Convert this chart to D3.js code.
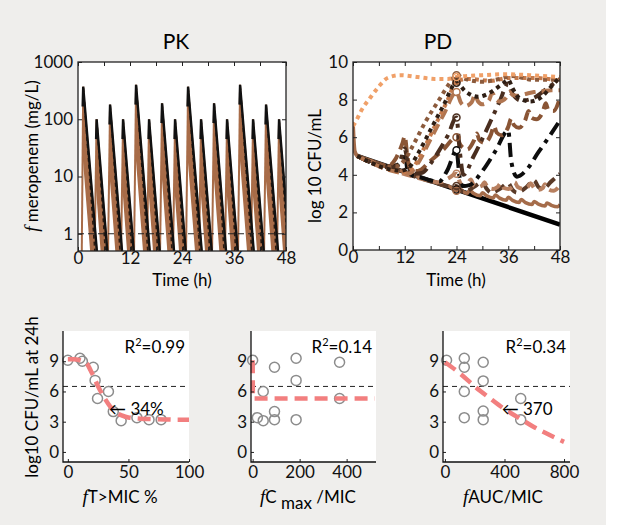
<!DOCTYPE html>
<html><head><meta charset="utf-8">
<script src="https://cdn.jsdelivr.net/npm/d3@7"></script>
<style>
body{margin:0;background:#fff;}
svg{display:block;font-family:Lato,"Open Sans",sans-serif;}
</style></head><body>
<svg id="c" width="634" height="525"></svg>
<script>
// ---------------- DATA ----------------
// PK: one spike per dose
const pkPeakTime   = [1.2,4.3,7.4,10.4,13.4,16.4,19.4,22.4,25.4,28.4,31.4,34.4,37.4,40.4,43.4,46.4];
const pkPeakConc   = [370,100,180,100,400,100,190,100,370,100,190,100,400,100,180,100];
const pkLowPeak    = [25,6.5,12,6.5,27,6.5,13,6.5,25,6.5,13,6.5,27,6.5,12,6.5];
const pkDoseStart  = [0.85,3.8,6.9,9.9,12.9,15.9,18.9,21.9,24.9,27.9,30.9,33.9,36.9,39.9,42.9,45.9];
const pkReachFloor = [4.6,7.0,10.4,13.1,16.8,19.1,22.4,25.1,28.8,31.1,34.4,37.1,40.8,43.1,46.4,49.1];
const pkBandFloor  = [3.2,5.6,9.0,11.7,15.4,17.7,21.0,23.7,27.4,29.7,33.0,35.7,39.4,41.7,45.0,47.7];
const pkMIC = 1;
const timeTicks = [0,6,12,18,24,30,36,42,48];
const pkYTicks = [1,10,100,1000];
const pdYTicks = [0,2,4,6,8,10];

// PD: log10 CFU/mL time courses [time h, log10 CFU/mL]
const pdStart   = [[0,6.6],[0.15,5.9],[0.4,5.25],[1,5.0]];
const pdKill    = [[1,5.0],[24,3.21],[48,1.35]];
const pdControl = [[0,6.6],[0.8,6.9],[2,7.45],[4,8.1],[6,8.7],[8,9.15],[11,9.3],[15,9.2],[19,9.1],[22,9.1],[24,9.2],[30,9.3],[35,9.35],[41,9.3],[48,9.2]];
const pdDot1 = [[1,5.0],[8,4.46],[10,4.45],[12,4.8],[14,5.6],[17,6.9],[20,8.0],[22.5,8.9],[24,9.3],[26,9.1],[30,8.95],[34,9.1],[37,9.25],[42,9.05],[48,9.05]];
const pdDot2 = [[1,5.0],[11,4.22],[13,4.4],[15,5.1],[18,6.4],[21,7.7],[24,8.9],[26,8.45],[29,8.15],[32,8.4],[35,8.9],[36,9.05],[37,8.6],[38.5,8.1],[41,7.9],[43.5,8.1],[46,8.7],[48,9.2]];
const pdDot3 = [[1,5.0],[12,4.15],[14,4.4],[16,5.2],[19,6.6],[22,8.0],[24,9.0],[27,9.1],[32,9.0],[36,9.15],[42,9.15],[48,9.0]];
const pdDash1 = [[1,5.0],[13,4.07],[15,4.6],[18,5.9],[21,7.2],[24,8.4],[25,7.85],[26,7.65],[27.5,7.85],[28.3,8.25],[29,7.9],[30,7.75],[31.5,7.95],[32.3,8.35],[33,8.05],[34,7.9],[35.5,8.1],[36.3,8.4],[37,8.25],[38,8.2],[40,8.3],[42,8.4],[44,8.45],[46,8.5],[48,8.5]];
const pdDashDot1 = [[1,5.0],[9,4.38],[11,4.8],[12,5.4],[12.7,4.6],[14,4.05],[16,4.1],[18,4.6],[20,5.3],[22,6.1],[24,7.05],[24.7,5.4],[25.6,4.0],[28,5.0],[31,6.4],[34,7.9],[36,8.85],[37,8.3],[39,7.95],[42,8.1],[45,8.6],[48,9.1]];
const pdDash2 = [[1,5.0],[8,4.46],[10,4.9],[11.5,5.7],[12,6.05],[12.6,5.0],[13.5,4.2],[15,4.2],[18,4.75],[21,5.35],[24,6.0],[25,5.55],[26.5,5.35],[28,5.8],[28.7,6.2],[29.3,5.85],[30.5,5.7],[32,6.15],[32.7,6.6],[33.3,6.25],[34.5,6.1],[36,6.55],[36.7,7.0],[37.3,6.65],[38.5,6.5],[40,6.95],[40.7,7.4],[41.3,7.05],[42.5,6.95],[44,7.35],[44.7,7.8],[45.3,7.45],[46.5,7.4],[48,8.1]];
const pdDashDot2 = [[1,5.0],[8,4.46],[10,4.5],[11.5,4.9],[12,5.2],[12.6,4.3],[13.5,4.0],[16,3.84],[18,3.7],[20,3.65],[22,4.3],[24,5.3],[24.7,3.9],[25.5,3.4],[27,3.45],[30,4.2],[33,5.25],[36,6.35],[36.7,4.7],[38,3.9],[40,4.2],[43,5.2],[46,6.2],[48,6.9]];
const pdDash3 = [[1,5.0],[18,3.68],[20,3.6],[22,3.8],[24,4.05],[24.7,3.65],[25.5,3.4],[26.5,3.5],[27.3,3.75],[28,3.45],[29,3.35],[30,3.45],[30.5,3.6],[31.2,3.35],[32.5,3.25],[33.5,3.35],[34.3,3.55],[35,3.3],[36,3.25],[37,3.35],[37.5,3.6],[38.2,3.35],[39.5,3.25],[40.5,3.35],[41.2,3.55],[42,3.3],[43,3.2],[44,3.3],[44.5,3.5],[45.2,3.25],[46.5,3.15],[47.5,3.3],[48,3.45]];
const pdDash4 = [[1,5.0],[20,3.52],[22,3.4],[24,3.4],[25,3.15],[26,3.1],[28,3.35],[30,3.6],[31,3.25],[32,3.05],[34,3.25],[36,3.55],[37,3.2],[38,3.05],[40,3.3],[42,3.7],[43,3.35],[44,3.25],[46,3.65],[48,4.05]];
const pdWavy = [[1,5.0],[20,3.52],[21,3.44],[22,3.42],[23,3.28],[24,3.15],[24.5,3.3],[25.5,3.12],[26.5,3.02],[27,3.18],[28,3.0],[29.5,2.88],[30,3.05],[31,2.88],[32.5,2.76],[33,2.92],[34,2.76],[35.5,2.64],[36,2.8],[37,2.64],[38.5,2.52],[39,2.68],[40,2.52],[41.5,2.42],[42,2.58],[43,2.44],[44.5,2.34],[45,2.5],[46,2.38],[47.5,2.3],[48,2.42]];

// Bottom panels: log10 CFU/mL at 24h vs PK/PD index
const bacteriaThreshold = 6.5;
const tmicX = [0,10,12,21,22.5,33.5,24.5,37.5,44,57,67,77];
const tmicY = [9.1,9.3,9.0,8.4,7.1,6.0,5.3,4.0,3.1,3.4,3.2,3.2];
const tmicFitX = [0,5,10,15,20,25,30,35,40,45,50,60,70,80,90,100];
const tmicFitY = [9.2,9.2,9.1,8.85,7.8,6.5,5.4,4.5,3.9,3.6,3.42,3.3,3.25,3.22,3.2,3.2];
const cmaxX = [0,20,45,45,93,93,93,185,185,185,370,370];
const cmaxY = [9.1,3.4,3.1,6.0,8.4,4.0,3.2,9.3,7.1,3.2,8.9,5.3];
const cmaxFitX = [0,1,520];
const cmaxFitY = [9.1,5.3,5.3];
const aucX = [11,130,130,130,130,257,257,257,257,509,509];
const aucY = [9.1,9.3,8.4,6.0,3.4,8.9,7.05,4.05,3.2,5.3,3.2];
const aucFitX = [0,100,200,300,400,500,600,700,800];
const aucFitY = [8.9,7.8,6.5,5.35,4.25,3.35,2.45,1.7,1.0];
const subYTicks = [0,3,6,9];

// ---------------- DRAW ----------------
const svg = d3.select('#c');
svg.append('rect').attr('width',606).attr('height',525).attr('fill','#efeeec');
const defs = svg.append('defs');
function clip(id,x0,y0,x1,y1){defs.append('clipPath').attr('id',id).append('rect').attr('x',x0).attr('y',y0).attr('width',x1-x0).attr('height',y1-y0);}
function styleAxis(g,size){g.attr('font-family','Lato, "Open Sans", sans-serif').attr('font-size',size||17);g.select('.domain').remove();g.selectAll('text').attr('fill','#111');g.selectAll('.tick line').attr('stroke','#222');}
const tFmt = d => d%12===0 ? d : '';

// ---- PK ----
const pkX = d3.scaleLinear().domain([0,48]).range([78,286]);
const pkY = d3.scaleLog().domain([0.5,1000]).range([251,62]);
svg.append('rect').attr('x',78).attr('y',62).attr('width',208).attr('height',189).attr('fill','#fff');
clip('cpk',78,62,286,251);
const gpk = svg.append('g').attr('clip-path','url(#cpk)');
const FLOOR = 0.3;
const pkLine = d3.line().x(d=>pkX(d[0])).y(d=>pkY(d[1]));
const brown = '#a86c48';
pkPeakTime.forEach((tp,i)=>{
  const p = pkPeakConc[i];
  gpk.append('path').attr('d',pkLine([[pkDoseStart[i],FLOOR],[tp,p]]))
    .attr('fill','none').attr('stroke',brown).attr('stroke-width',2);
  gpk.append('path').attr('d',pkLine([[tp,pkLowPeak[i]],[tp,p],[pkReachFloor[i],FLOOR],[pkBandFloor[i],FLOOR]])+'Z')
    .attr('fill',brown).attr('stroke',brown).attr('stroke-width',1.5);
});
pkPeakTime.forEach((tp,i)=>{
  const p = pkPeakConc[i];
  gpk.append('path').attr('d',pkLine([[tp+0.05,p*0.95],[pkReachFloor[i]-0.5,FLOOR]]))
    .attr('fill','none').attr('stroke','#2a1a10').attr('stroke-width',1.6).attr('stroke-dasharray','4,3');
  gpk.append('path').attr('d',pkLine([[tp-0.12,p*0.45],[tp,p],[pkReachFloor[i],FLOOR]]))
    .attr('fill','none').attr('stroke','#111').attr('stroke-width',2.4);
});
gpk.append('line').attr('x1',pkX(0)).attr('x2',pkX(48)).attr('y1',pkY(pkMIC)).attr('y2',pkY(pkMIC))
  .attr('stroke','#222').attr('stroke-width',1).attr('stroke-dasharray','6,4');

styleAxis(svg.append('g').attr('transform','translate(0,251)').call(d3.axisBottom(pkX).tickValues(timeTicks).tickFormat(tFmt).tickSize(-4).tickPadding(1)));
styleAxis(svg.append('g').attr('transform','translate(0,62)').call(d3.axisTop(pkX).tickValues(timeTicks).tickFormat('').tickSize(-4)));
styleAxis(svg.append('g').attr('transform','translate(78,0)').call(d3.axisLeft(pkY).tickValues(pkYTicks).tickFormat(d3.format('d')).tickSize(-4).tickPadding(5)));
styleAxis(svg.append('g').attr('transform','translate(286,0)').call(d3.axisRight(pkY).tickValues(pkYTicks).tickFormat('').tickSize(-4)));
svg.append('rect').attr('x',78).attr('y',62).attr('width',208).attr('height',189).attr('fill','none').attr('stroke','#222').attr('stroke-width',1.3);

svg.append('text').attr('x',176).attr('y',49).attr('text-anchor','middle').attr('font-size',21).text('PK');
svg.append('text').attr('x',182).attr('y',286).attr('text-anchor','middle').attr('font-size',17).text('Time (h)');
const pkyl = svg.append('text').attr('transform','translate(38,156) rotate(-90)').attr('text-anchor','middle').attr('font-size',17);
pkyl.append('tspan').attr('font-style','italic').attr('font-family','"Liberation Serif", serif').attr('font-size',19).text('f');
pkyl.append('tspan').text(' meropenem (mg/L)');

// ---- PD ----
const pdX = d3.scaleLinear().domain([0,48]).range([353,560]);
const pdY = d3.scaleLinear().domain([0,10]).range([250,62]);
svg.append('rect').attr('x',353).attr('y',62).attr('width',207).attr('height',188).attr('fill','#fff');
clip('cpd',353,62,560,250);
const gpd = svg.append('g').attr('clip-path','url(#cpd)');
const pdLine = d3.line().x(d=>pdX(d[0])).y(d=>pdY(d[1])).curve(d3.curveMonotoneX);
const pdSeries = [
  {d:pdKill,     c:'#000000', dash:null,         w:4.5},
  {d:pdWavy,     c:'#a56c4a', dash:null,         w:3.5},
  {d:pdDash4,    c:'#5a3a28', dash:'11,6',       w:4},
  {d:pdDash3,    c:'#b88060', dash:'10,6',       w:4},
  {d:pdDashDot2, c:'#0d0d0d', dash:'14,6,4,6',   w:4},
  {d:pdDash2,    c:'#8a5535', dash:'12,6',       w:4},
  {d:pdDashDot1, c:'#4a2e1f', dash:'14,6,4,6',   w:4},
  {d:pdDash1,    c:'#b07550', dash:'11,6',       w:4},
  {d:pdDot3,     c:'#c47a4c', dash:'4,4',        w:4},
  {d:pdDot1,     c:'#8b5a3c', dash:'4,4',        w:4},
  {d:pdDot2,     c:'#2e1e14', dash:'4,4',        w:4},
  {d:pdControl,  c:'#f0a068', dash:'4,4',        w:4}
];
gpd.append('path').attr('d',pdLine(pdStart)).attr('fill','none').attr('stroke','#a56c4a').attr('stroke-width',4);
pdSeries.forEach(s=>{
  gpd.append('path').attr('d',pdLine(s.d)).attr('fill','none').attr('stroke',s.c).attr('stroke-width',s.w)
    .attr('stroke-dasharray',s.dash);
});
pdSeries.forEach(s=>{
  const p = s.d.find(d=>d[0]===24);
  if(p) gpd.append('circle').attr('cx',pdX(24)).attr('cy',pdY(p[1])).attr('r',3.5)
    .attr('fill','none').attr('stroke',s.c).attr('stroke-width',1.5);
});
styleAxis(svg.append('g').attr('transform','translate(0,250)').call(d3.axisBottom(pdX).tickValues(timeTicks).tickFormat(tFmt).tickSize(-4).tickPadding(1)));
styleAxis(svg.append('g').attr('transform','translate(0,62)').call(d3.axisTop(pdX).tickValues(timeTicks).tickFormat('').tickSize(-4)));
styleAxis(svg.append('g').attr('transform','translate(353,0)').call(d3.axisLeft(pdY).tickValues(pdYTicks).tickSize(-4).tickPadding(5)));
styleAxis(svg.append('g').attr('transform','translate(560,0)').call(d3.axisRight(pdY).tickValues(pdYTicks).tickFormat('').tickSize(-4)));
svg.append('rect').attr('x',353).attr('y',62).attr('width',207).attr('height',188).attr('fill','none').attr('stroke','#222').attr('stroke-width',1.3);
svg.append('text').attr('x',438).attr('y',49).attr('text-anchor','middle').attr('font-size',21).text('PD');
svg.append('text').attr('x',456).attr('y',286).attr('text-anchor','middle').attr('font-size',17).text('Time (h)');
svg.append('text').attr('transform','translate(321,166) rotate(-90)').attr('text-anchor','middle').attr('font-size',17).text('log 10 CFU/mL');

// ---- bottom panels ----
const subY = d3.scaleLinear().domain([-1,12]).range([462,331]);
const pink = '#f27f7f';
function panel(o){
  const x = d3.scaleLinear().domain(o.dom).range(o.rng);
  svg.append('rect').attr('x',o.rng[0]).attr('y',331).attr('width',o.rng[1]-o.rng[0]).attr('height',131).attr('fill','#fff');
  svg.append('line').attr('x1',o.rng[0]).attr('x2',o.rng[1]).attr('y1',subY(bacteriaThreshold)).attr('y2',subY(bacteriaThreshold))
    .attr('stroke','#222').attr('stroke-width',1).attr('stroke-dasharray','5,4');
  svg.selectAll(null).data(o.px.map((v,i)=>[v,o.py[i]])).enter().append('circle')
    .attr('cx',d=>x(d[0])).attr('cy',d=>subY(d[1])).attr('r',5).attr('fill','none').attr('stroke','#8c8c8c').attr('stroke-width',1.5);
  const fl = d3.line().x(d=>x(d[0])).y(d=>subY(d[1])).curve(o.curve||d3.curveMonotoneX);
  svg.append('path').attr('d',fl(o.fx.map((v,i)=>[v,o.fy[i]]))).attr('fill','none').attr('stroke',pink)
    .attr('stroke-width',4.5).attr('stroke-dasharray','13,7');
  styleAxis(svg.append('g').attr('transform','translate(0,462)').call(d3.axisBottom(x).tickValues(o.ticks).tickSize(-3).tickPadding(4)));
  styleAxis(svg.append('g').attr('transform',`translate(${o.rng[0]},0)`).call(d3.axisLeft(subY).tickValues(subYTicks).tickSize(-3).tickPadding(4)));
  svg.append('path').attr('d',`M${o.rng[0]},331V462H${o.rng[1]}`).attr('fill','none').attr('stroke','#111').attr('stroke-width',1.3);
  const r = svg.append('text').attr('x',o.rng[1]-4).attr('y',353).attr('text-anchor','end').attr('font-size',17);
  r.append('tspan').text('R');
  r.append('tspan').attr('font-size',11).attr('dy',-7).text('2');
  r.append('tspan').attr('dy',7).text(o.r2);
  if(o.arrow){
    svg.append('text').attr('x',x(o.arrow[0])).attr('y',subY(o.arrow[1])+6).attr('font-size',17).text('\u2190 '+o.arrow[2]);
  }
  return x;
}
panel({dom:[-4,100],rng:[63,189],px:tmicX,py:tmicY,fx:tmicFitX,fy:tmicFitY,ticks:[0,50,100],r2:'=0.99',arrow:[34,4.3,'34%']});
panel({dom:[-7,525],rng:[251,376],px:cmaxX,py:cmaxY,fx:cmaxFitX,fy:cmaxFitY,ticks:[0,200,400],r2:'=0.14',curve:d3.curveLinear});
panel({dom:[-13,840],rng:[443,570],px:aucX,py:aucY,fx:aucFitX,fy:aucFitY,ticks:[0,400,800],r2:'=0.34',arrow:[381,4.3,'370']});

svg.append('text').attr('transform','translate(38,397) rotate(-90)').attr('text-anchor','middle').attr('font-size',17).text('log10 CFU/mL at 24h');
function xlab(x,parts){
  const t = svg.append('text').attr('x',x).attr('y',503).attr('text-anchor','middle').attr('font-size',17);
  parts.forEach(p=>{const s=t.append('tspan').text(p.t); if(p.i) s.attr('font-style','italic').attr('font-family','"Liberation Serif", serif').attr('font-size',19); if(p.dy) s.attr('dy',p.dy);});
}
xlab(120,[{t:'f',i:1},{t:'T>MIC %'}]);
xlab(308,[{t:'f',i:1},{t:'C '},{t:'max',dy:6},{t:' /MIC',dy:-6}]);
xlab(503,[{t:'f',i:1},{t:'AUC/MIC'}]);
</script></body></html>
